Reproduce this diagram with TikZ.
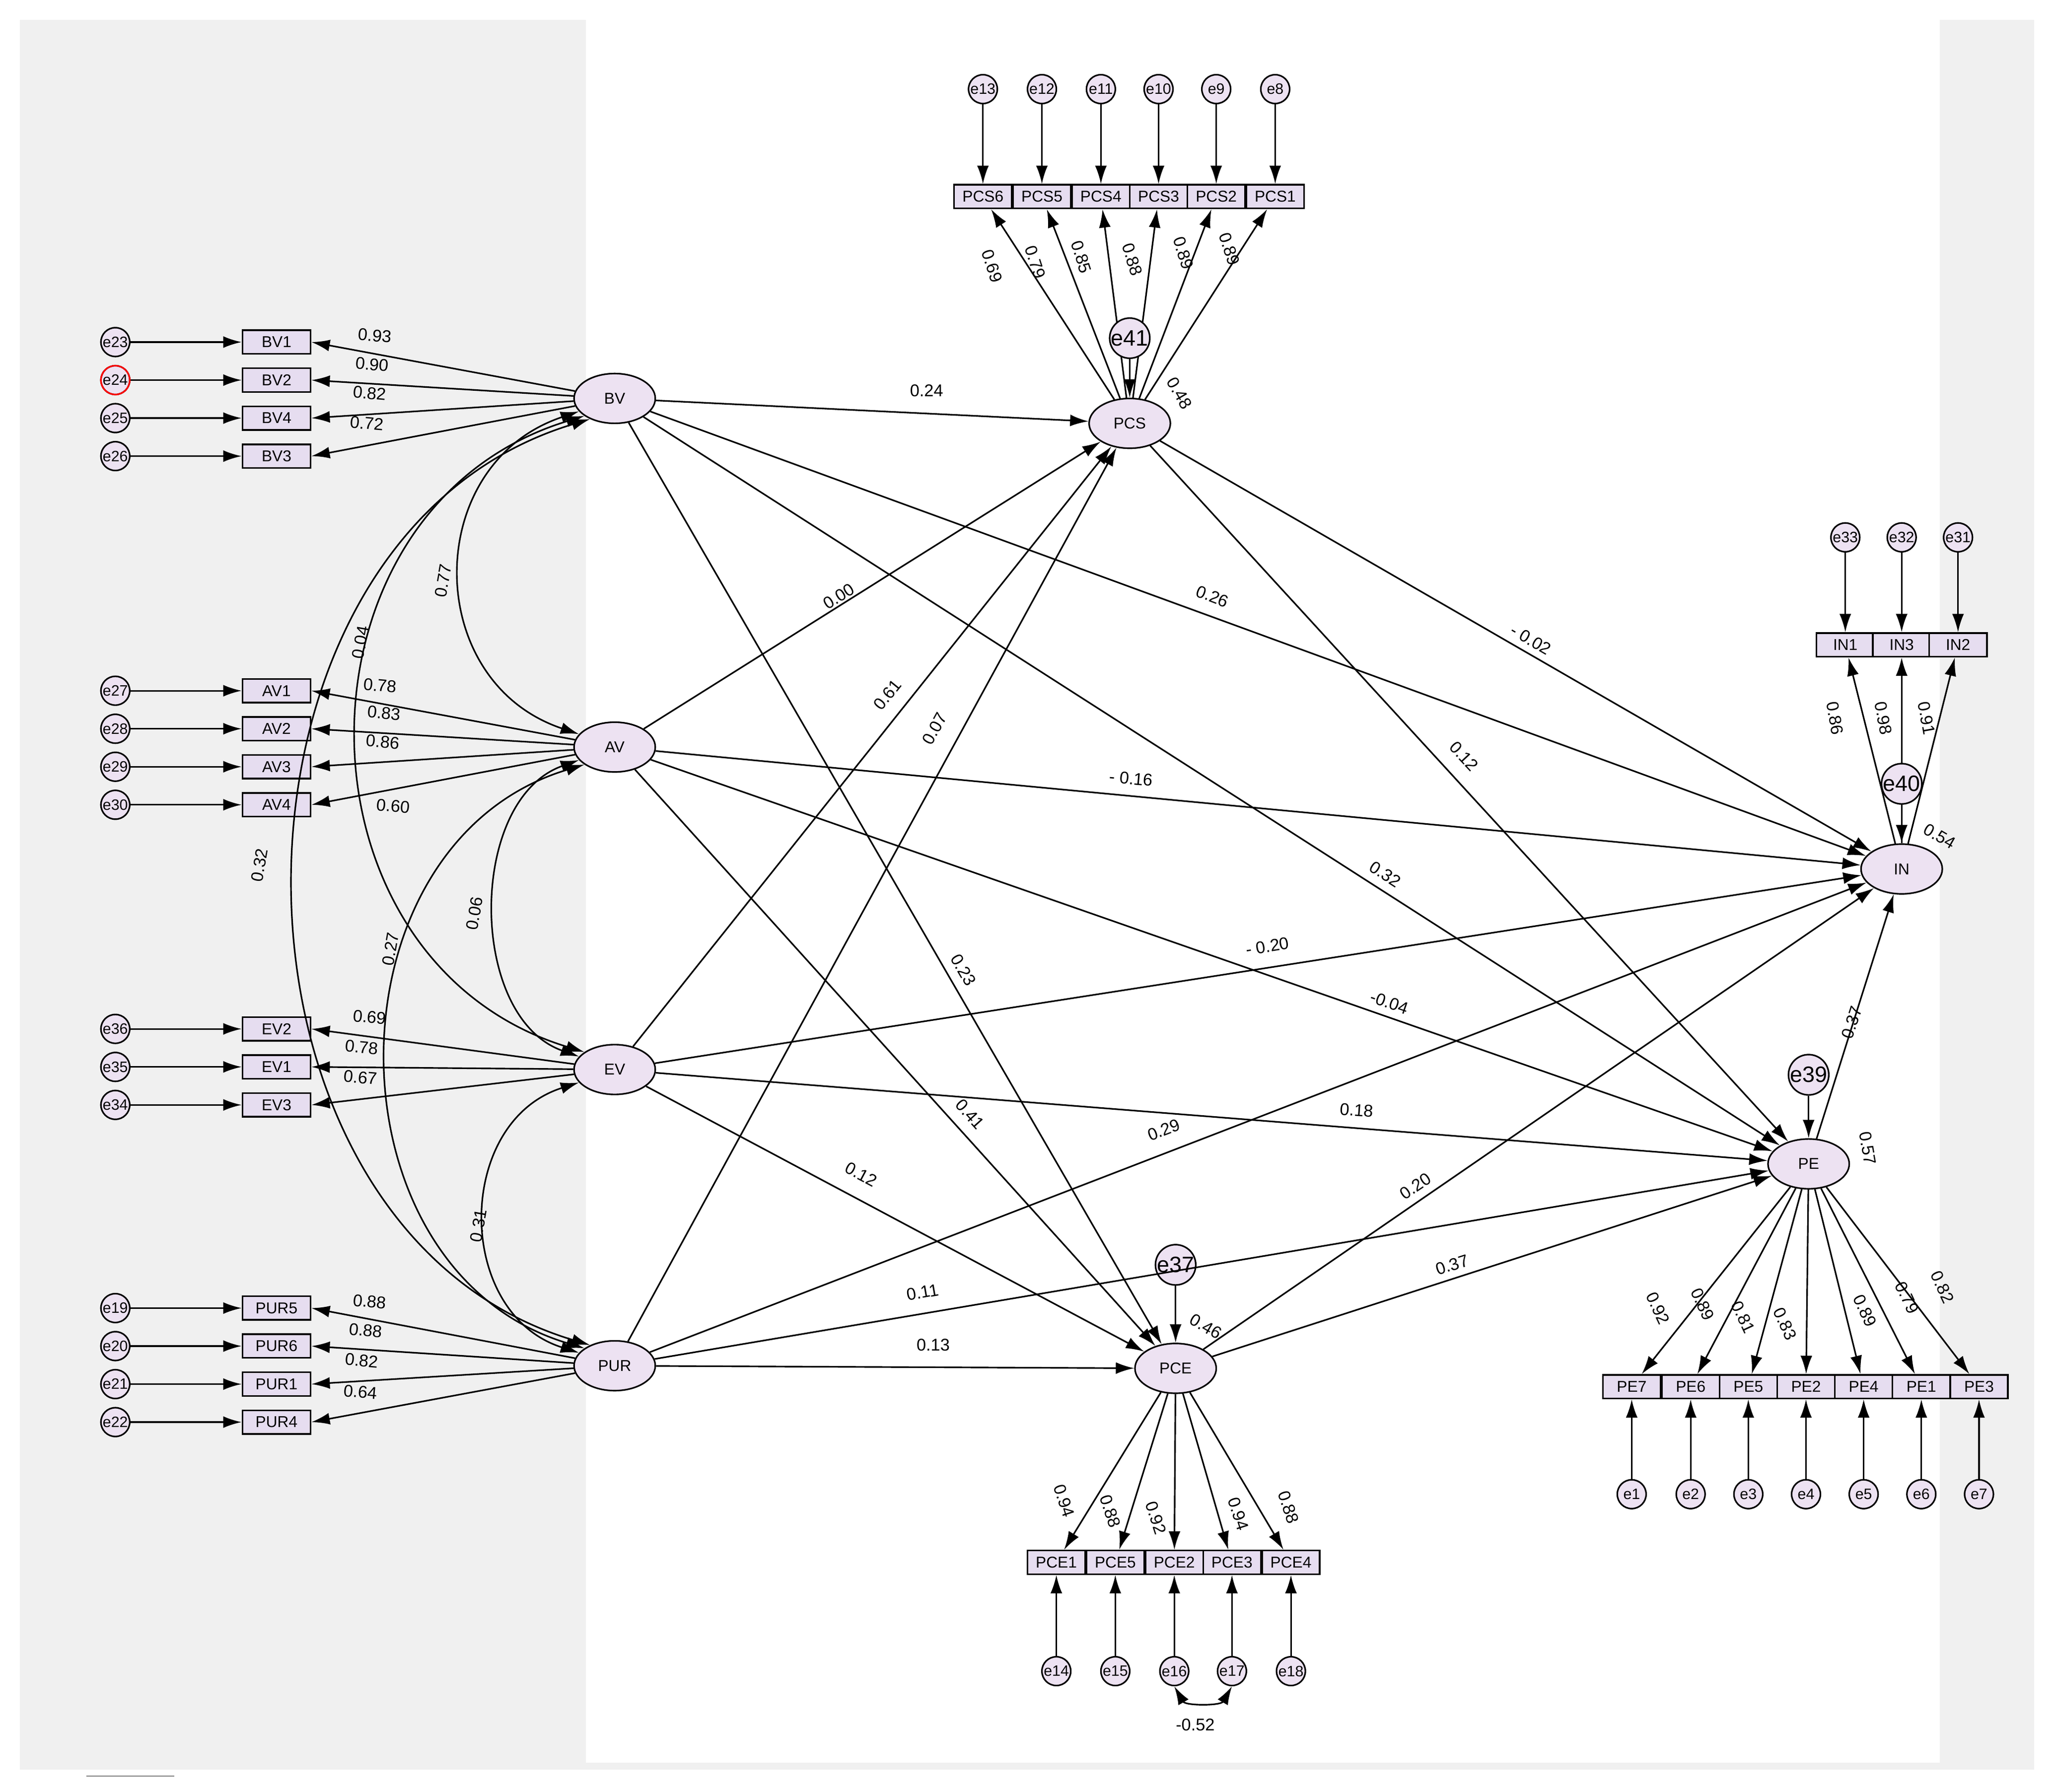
\documentclass[tikz,border=0pt]{standalone}
\usepackage{fontspec}
\setmainfont{Liberation Sans}
\usetikzlibrary{shapes.geometric,arrows.meta}
\definecolor{latfill}{HTML}{EDE2F2}
\definecolor{indfill}{HTML}{E6DDF0}
\definecolor{bg}{HTML}{F0F0F0}
\tikzset{
 lat/.style={ellipse,draw,line width=1.2pt,fill=latfill,minimum width=62,minimum height=38,inner sep=0,font=\fontsize{12}{12}\selectfont},
 ind/.style={rectangle,draw,line width=1.3pt,fill=indfill,minimum width=52,minimum height=18,inner sep=0,font=\fontsize{12}{12}\selectfont},
 indn/.style={ind,minimum width=44},
 err/.style={circle,draw,line width=1.2pt,fill=latfill,minimum size=22,inner sep=0,font=\fontsize{11.5}{11.5}\selectfont},
 dist/.style={circle,draw,line width=1.2pt,fill=latfill,minimum size=28,inner sep=0,font=\fontsize{17}{17}\selectfont},
 arr/.style={line width=1.2pt,-{Latex[length=14,width=9]}},
 cor/.style={line width=1.2pt,{Latex[length=14,width=9]}-{Latex[length=14,width=9]}},
 lab/.style={font=\fontsize{13}{13}\selectfont,inner sep=1}
}
\begin{document}
\begin{tikzpicture}[x=1pt,y=-1pt]
\useasboundingbox (0,0) rectangle (1568,1367);
\fill[bg] (15,15) rectangle (1552,1350);
\fill[white] (447,15) rectangle (1480,1345);
\draw[gray,line width=0.8pt] (66,1355) -- (133,1355);
% latents
\node[lat] (BV) at (469,304) {BV};
\node[lat] (AV) at (469,570) {AV};
\node[lat] (EV) at (469,816) {EV};
\node[lat] (PUR) at (469,1042) {PUR};
\node[lat] (PCS) at (862,323) {PCS};
\node[lat] (PCE) at (897,1044) {PCE};
\node[lat] (IN) at (1451,663) {IN};
\node[lat] (PE) at (1380,888) {PE};
% left indicators
\foreach \n/\e/\y/\L/\ly in {BV1/e23/261/BV/0.93,BV2/e24/290/BV/0.90,BV4/e25/319/BV/0.82,BV3/e26/348/BV/0.72,
 AV1/e27/527/AV/0.78,AV2/e28/556/AV/0.83,AV3/e29/585/AV/0.86,AV4/e30/614/AV/0.60,
 EV2/e36/785/EV/0.69,EV1/e35/814/EV/0.78,EV3/e34/843/EV/0.67,
 PUR5/e19/998/PUR/0.88,PUR6/e20/1027/PUR/0.88,PUR1/e21/1056/PUR/0.82,PUR4/e22/1085/PUR/0.64}{
 \node[ind] (\n) at (211,\y) {\n};
 \node[err] (\e) at (88,\y) {\e};
 \draw[arr] (\e) -- (\n);
 \draw[arr] (\L) -- (\n.east);
}
\draw[red,line width=1.2pt] (e24) circle (11);
\foreach \t/\x/\y in {0.93/286/256,0.90/284/278,0.82/282/300,0.72/280/323,0.78/290/523,0.83/293/544,0.86/292/566,0.60/300/615,0.69/282/776,0.78/276/799,0.67/275/822,0.88/282/993,0.88/279/1015,0.82/276/1038,0.64/275/1062}
 \node[lab,rotate=-5] at (\x,\y) {\t};
% correlations
\draw[cor] (BV.200) .. controls +(-120,40) and +(-120,-40) .. (AV.160);
\draw[cor] (BV.210) .. controls +(-230,70) and +(-230,-70) .. (EV.150);
\draw[cor] (BV.220) .. controls +(-300,90) and +(-300,-90) .. (PUR.140);
\draw[cor] (AV.200) .. controls +(-85,30) and +(-85,-30) .. (EV.160);
\draw[cor] (AV.210) .. controls +(-200,60) and +(-200,-60) .. (PUR.150);
\draw[cor] (EV.200) .. controls +(-95,30) and +(-95,-30) .. (PUR.160);
\foreach \t/\x/\y in {0.77/338/443,0.04/275/490,0.32/198/660,0.06/362/697,0.27/298/724,0.31/365/935}
 \node[lab,rotate=80] at (\x,\y) {\t};
% PCS indicators
\foreach \n/\e/\x/\t/\lx/\ly in {PCS6/e13/750/0.69/757/203,PCS5/e12/795/0.79/790/200,PCS4/e11/840/0.85/825/196,PCS3/e10/884/0.88/864/198,PCS2/e9/928/0.89/903/193,PCS1/e8/973/0.89/938/190}{
 \node[indn] (\n) at (\x,150) {\n};
 \node[err] (\e) at (\x,68) {\e};
 \draw[arr] (\e) -- (\n);
 \draw[arr] (PCS) -- (\n);
 \node[lab,rotate=-72] at (\lx,\ly) {\t};
}
% IN indicators
\foreach \n/\e/\x/\t/\lx in {IN1/e33/1408/0.86/1400,IN3/e32/1451/0.98/1437,IN2/e31/1494/0.91/1470}{
 \node[indn] (\n) at (\x,492) {\n};
 \node[err] (\e) at (\x,410) {\e};
 \draw[arr] (\e) -- (\n);
 \draw[arr] (IN) -- (\n);
 \node[lab,rotate=-80] at (\lx,548) {\t};
}
% PE indicators
\foreach \n/\e/\x/\t/\lx/\ly in {PE7/e1/1245/0.92/1265/998,PE6/e2/1290/0.89/1299/995,PE5/e3/1334/0.81/1330/1005,PE2/e4/1378/0.83/1362/1010,PE4/e5/1422/0.89/1423/1000,PE1/e6/1466/0.79/1455/990,PE3/e7/1510/0.82/1482/982}{
 \node[indn] (\n) at (\x,1058) {\n};
 \node[err] (\e) at (\x,1140) {\e};
 \draw[arr] (\e) -- (\n);
 \draw[arr] (PE) -- (\n);
 \node[lab,rotate=-65] at (\lx,\ly) {\t};
}
% PCE indicators
\foreach \n/\e/\x/\t/\lx/\ly in {PCE1/e14/806/0.94/812/1145,PCE5/e15/851/0.88/847/1153,PCE2/e16/896/0.92/882/1158,PCE3/e17/940/0.94/945/1155,PCE4/e18/985/0.88/983/1150}{
 \node[indn] (\n) at (\x,1192) {\n};
 \node[err] (\e) at (\x,1275) {\e};
 \draw[arr] (\e) -- (\n);
 \draw[arr] (PCE) -- (\n);
 \node[lab,rotate=-72] at (\lx,\ly) {\t};
}
\draw[cor] (e16.south) to[out=-60,in=-120] (e17.south);
\node[lab] at (912,1316) {-0.52};
% disturbances
\node[dist] (e41) at (862,258) {e41};
\node[dist] (e40) at (1451,598) {e40};
\node[dist] (e39) at (1380,820) {e39};
\node[dist] (e37) at (897,965) {e37};
\draw[arr] (e41) -- (PCS);
\draw[arr] (e40) -- (IN);
\draw[arr] (e39) -- (PE);
\draw[arr] (e37) -- (PCE);
\node[lab,rotate=-60] at (900,300) {0.48};
\node[lab,rotate=-30] at (1480,638) {0.54};
\node[lab,rotate=-80] at (1425,876) {0.57};
\node[lab,rotate=-30] at (920,1012) {0.46};
% structural paths
\foreach \a/\b/\t/\x/\y/\r in {BV/PCS/0.24/707/298/0,BV/IN/0.26/925/455/-21,BV/PE/0.32/1057/667/-33,BV/PCE/0.23/735/740/-60,
 AV/PCS/0.00/640/455/32,AV/IN/- 0.16/863/594/-5,AV/PE/-0.04/1060/765/-19,AV/PCE/0.41/740/850/-48,
 EV/PCS/0.61/677/530/51,EV/IN/- 0.20/967/722/9,EV/PE/0.18/1035/847/-4,EV/PCE/0.12/657/896/-28,
 PUR/PCS/0.07/713/556/61,PUR/IN/0.29/888/862/21,PUR/PE/0.11/704/986/10,PUR/PCE/0.13/712/1026/0,
 PCS/IN/- 0.02/1168/488/-30,PCS/PE/0.12/1117/577/-47,PCE/IN/0.20/1080/905/34,PCE/PE/0.37/1108/965/18,PE/IN/0.37/1413/780/72}{
 \draw[arr] (\a) -- (\b);
 \node[lab,rotate=\r] at (\x,\y) {\t};
}
\end{tikzpicture}
\end{document}
